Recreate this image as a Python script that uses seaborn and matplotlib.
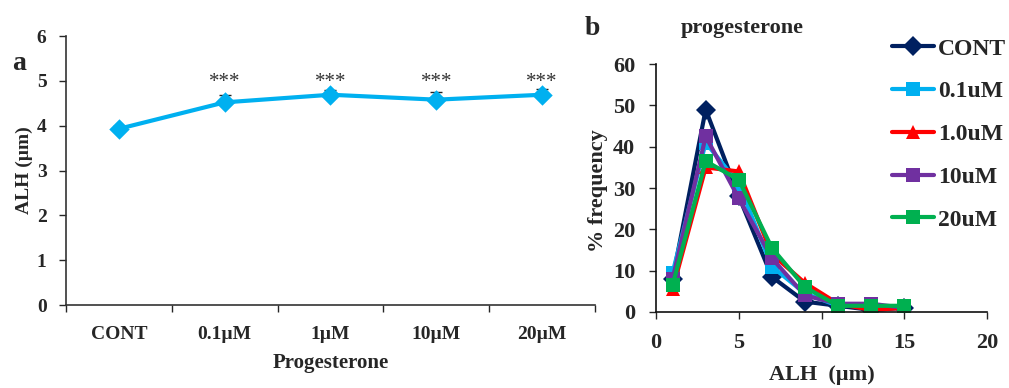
import pandas as pd
import matplotlib
matplotlib.use("Agg")
import matplotlib.pyplot as plt
import seaborn as sns

# --- data ---
# panel a: mean ALH per treatment, with upper error bar
doses = ["CONT", "0.1\u00b5M", "1\u00b5M", "10\u00b5M", "20\u00b5M"]
alh_mean = [3.93, 4.52, 4.69, 4.58, 4.69]
alh_err = [0.07, 0.16, 0.10, 0.16, 0.13]
stars = ["", "***", "***", "***", "***"]

# panel b: % frequency distribution of ALH
alh_bins = [1, 3, 5, 7, 9, 11, 13, 15]
freq_cont = [8.0, 49.0, 28.0, 8.5, 2.5, 1.5, 0.5, 1.0]
freq_01 = [9.5, 41.0, 31.0, 11.0, 4.5, 1.5, 1.5, 1.0]
freq_10 = [5.5, 35.0, 34.0, 14.0, 7.0, 2.0, 0.5, 1.0]
freq_100 = [8.0, 42.5, 27.5, 13.0, 4.0, 2.0, 2.0, 1.0]
freq_200 = [6.5, 36.5, 32.0, 15.5, 6.0, 1.5, 1.5, 1.5]
groups = ["CONT", "0.1uM", "1.0uM", "10uM", "20uM"]

# --- configuration ---
sns.set_style("ticks")
plt.rcParams['font.family'] = ['Liberation Serif', 'DejaVu Serif']
plt.rcParams['font.weight'] = 'bold'
plt.rcParams['axes.labelweight'] = 'bold'

fig = plt.figure(figsize=(10.09, 3.88), dpi=100)

# ---------- panel a ----------
ax1 = fig.add_axes([0.0654, 0.2139, 0.5243, 0.6933])
sns.pointplot(x=doses, y=alh_mean, color="#00B0F0", markers="D",
              markersize=8, linewidth=3, errorbar=None, ax=ax1)
ax1.errorbar(range(len(doses)), alh_mean, yerr=[[0] * len(alh_err), alh_err],
             fmt="none", ecolor="#222222", elinewidth=1.2, capsize=4, zorder=1)
for i, s in enumerate(stars):
    if s:
        ax1.text(i, 4.97, s, ha="center", va="center", fontsize=15,
                 fontweight="normal", color="#333333")

ax1.set_xlim(-0.5, len(doses) - 0.5)
ax1.set_ylim(0, 6)
ax1.set_yticks(range(0, 7))
ax1.set_xticks([i - 0.5 for i in range(len(doses) + 1)])
ax1.set_xticklabels([])
ax1.set_xticks(range(len(doses)), minor=True)
ax1.set_xticklabels(doses, minor=True)
ax1.tick_params(axis="x", which="minor", length=0, pad=15, labelsize=14)
ax1.tick_params(axis="x", which="major", length=5, width=1, direction="out")
ax1.tick_params(axis="y", length=5, width=1, labelsize=14, pad=9)
ax1.set_xlabel("Progesterone", fontsize=15)
ax1.set_ylabel("ALH (\u00b5m)", fontsize=14)
ax1.xaxis.set_label_coords(0.5, -0.18)
ax1.yaxis.set_label_coords(-0.062, 0.5)
sns.despine(ax=ax1)
for sp in ["left", "bottom"]:
    ax1.spines[sp].set_linewidth(1.2)
    ax1.spines[sp].set_color("#333333")
fig.text(0.012, 0.82, "a", fontsize=20, fontweight="bold")

# ---------- panel b ----------
dist = pd.DataFrame({
    "ALH": alh_bins * len(groups),
    "freq": freq_cont + freq_01 + freq_10 + freq_100 + freq_200,
    "group": [g for g in groups for _ in alh_bins],
})
palette = {"CONT": "#002060", "0.1uM": "#00B0F0", "1.0uM": "#FF0000",
           "10uM": "#7030A0", "20uM": "#00B050"}
marks = {"CONT": "D", "0.1uM": "s", "1.0uM": "^", "10uM": "s", "20uM": "s"}

ax2 = fig.add_axes([0.6502, 0.1959, 0.328, 0.639])
sns.lineplot(data=dist, x="ALH", y="freq", hue="group", style="group",
             hue_order=groups, style_order=groups, palette=palette,
             markers=marks, dashes=False, linewidth=3, markersize=10,
             markeredgewidth=0, ax=ax2)
ax2.set_xlim(0, 20)
ax2.set_ylim(0, 60)
ax2.set_xticks(range(0, 21, 5))
ax2.set_yticks(range(0, 61, 10))
ax2.tick_params(axis="both", length=5, width=1, labelsize=16)
ax2.tick_params(axis="x", pad=10)
ax2.tick_params(axis="y", pad=10)
ax2.set_xlabel("ALH  (\u00b5m)", fontsize=16)
ax2.set_ylabel("% frequency", fontsize=16)
ax2.xaxis.set_label_coords(0.5, -0.215)
ax2.yaxis.set_label_coords(-0.145, 0.49)
sns.despine(ax=ax2)
for sp in ["left", "bottom"]:
    ax2.spines[sp].set_linewidth(1.2)
    ax2.spines[sp].set_color("#111111")
ax2.text(0.26, 1.125, "progesterone", transform=ax2.transAxes, ha="center",
         va="baseline", fontsize=16, fontweight="bold")

handles, labels = ax2.get_legend_handles_labels()
ax2.get_legend().remove()
fig.legend(handles, labels, loc="upper left", bbox_to_anchor=(0.884, 0.902),
           frameon=False, fontsize=17, handlelength=1.8, handletextpad=0.15,
           labelspacing=0.9, borderpad=0, borderaxespad=0)
fig.text(0.579, 0.91, "b", fontsize=20, fontweight="bold")

fig.savefig("out.png", dpi=100)
